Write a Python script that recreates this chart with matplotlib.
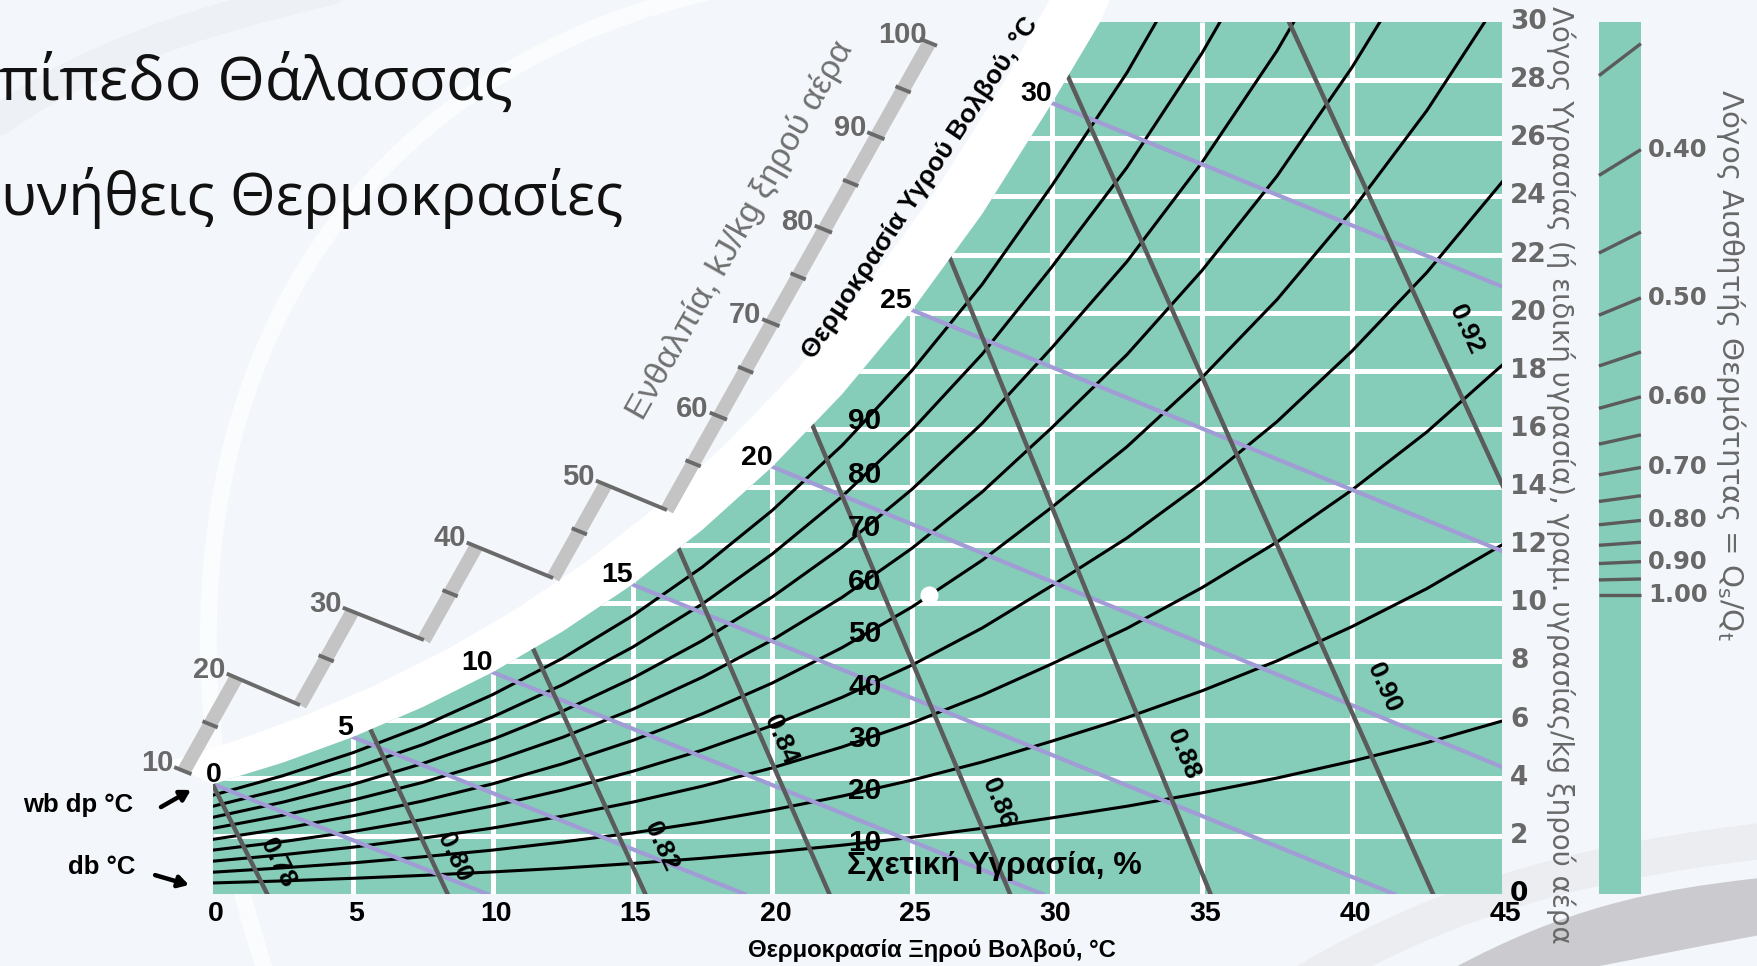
import numpy as np
import matplotlib
matplotlib.use("Agg")
import matplotlib.pyplot as plt
from matplotlib.patches import Polygon, PathPatch
from matplotlib.path import Path
from matplotlib.font_manager import fontManager

W_PX, H_PX, DPI = 1757, 966, 100

BG = '#f3f6fa'
GREEN = '#85ccb9'
LAVENDER = '#a19cd6'
DARK = '#5b5b5b'
GREY_TXT = '#686868'
BAR_GREY = '#c4c4c4'

# ---- chart values ------------------------------------------------------------
TEMPS = [0, 2.5, 5, 7.5, 10, 12.5, 15, 17.5, 20, 22.5,
         25, 27.5, 30, 32.5, 35, 37.5, 40, 42.5, 45]

# humidity ratio, g/kg dry air, along each relative humidity curve
RH_10 = [0.38, 0.45, 0.54, 0.64, 0.76, 0.89, 1.05, 1.23, 1.44, 1.68,
         1.95, 2.26, 2.62, 3.02, 3.48, 3.99, 4.57, 5.21, 5.95]
RH_20 = [0.75, 0.90, 1.07, 1.28, 1.51, 1.79, 2.10, 2.47, 2.89, 3.37,
         3.92, 4.54, 5.26, 6.07, 6.99, 8.02, 9.20, 10.51, 12.01]
RH_30 = [1.13, 1.35, 1.61, 1.92, 2.27, 2.68, 3.16, 3.71, 4.34, 5.06,
         5.89, 6.84, 7.92, 9.14, 10.54, 12.11, 13.90, 15.90, 18.19]
RH_40 = [1.51, 1.80, 2.15, 2.56, 3.03, 3.58, 4.22, 4.95, 5.80, 6.77,
         7.88, 9.15, 10.61, 12.25, 14.14, 16.25, 18.68, 21.39, 24.49]
RH_50 = [1.88, 2.25, 2.69, 3.20, 3.79, 4.48, 5.28, 6.20, 7.26, 8.48,
         9.88, 11.48, 13.31, 15.39, 17.77, 20.45, 23.52, 26.96, 30.91]
RH_60 = [2.26, 2.71, 3.23, 3.84, 4.56, 5.39, 6.35, 7.46, 8.74, 10.21,
         11.90, 13.83, 16.05, 18.56, 21.45, 24.70, 28.44, 32.64]
RH_70 = [2.64, 3.16, 3.77, 4.49, 5.32, 6.29, 7.42, 8.72, 10.22, 11.94,
         13.93, 16.19, 18.80, 21.76, 25.17, 29.01, 33.44]
RH_80 = [3.02, 3.61, 4.32, 5.14, 6.09, 7.20, 8.49, 9.98, 11.70, 13.68,
         15.97, 18.57, 21.58, 25.00, 28.93, 33.40]
RH_90 = [3.40, 4.07, 4.86, 5.78, 6.86, 8.11, 9.57, 11.25, 13.20, 15.44,
         18.02, 20.97, 24.38, 28.26, 32.73]
SATURATION = [3.78, 4.52, 5.40, 6.43, 7.63, 9.03, 10.65, 12.53, 14.70, 17.20,
              20.09, 23.39, 27.21, 31.56]
RH_LEVELS = [10, 20, 30, 40, 50, 60, 70, 80, 90]
RH_CURVES = [RH_10, RH_20, RH_30, RH_40, RH_50, RH_60, RH_70, RH_80, RH_90]

X_TICKS = [0, 5, 10, 15, 20, 25, 30, 35, 40, 45]
Y_TICKS = [0, 2, 4, 6, 8, 10, 12, 14, 16, 18, 20, 22, 24, 26, 28, 30]

# wet bulb lines: start on saturation, end where they leave the chart
WB_TEMPS = [0, 5, 10, 15, 20, 25, 30]
WB_START_W = [3.78, 5.40, 7.63, 10.65, 14.70, 20.09, 27.21]
WB_END_T = [9.8, 19.0, 29.65, 41.4, 45.0, 45.0, 45.0]
WB_END_W = [0, 0, 0, 0, 4.37, 11.8, 20.9]

# specific volume lines, m3/kg
VOLUMES = ['0.78', '0.80', '0.82', '0.84', '0.86', '0.88', '0.90', '0.92']
VOL_TOP_T = [0.0, 5.64, 11.47, 16.64, 21.4, 26.4, 30.53, 37.9]
VOL_TOP_W = [3.75, 5.64, 8.39, 11.9, 16.2, 21.7, 28.1, 30.0]
VOL_BOT_T = [1.94, 8.39, 15.46, 22.04, 28.5, 35.27, 42.7, 45.0]
VOL_BOT_W = [0, 0, 0, 0, 0, 0, 0, 14.1]
VOL_LABEL_T = [2.32, 8.62, 16.02, 20.31, 28.10, 34.37, 41.07, 43.8]
VOL_LABEL_W = [1.07, 1.27, 1.65, 5.30, 3.13, 4.82, 7.09, 19.44]

ENTH_LABELS = [10, 20, 30, 40, 50, 60, 70, 80, 90, 100]
ENTH_SEGMENTS = [(10, 20), (20, 30), (30, 40), (40, 50), (50, 100)]

SHR_TICKS = [0.35, 0.40, 0.45, 0.50, 0.55, 0.60, 0.65,
             0.70, 0.75, 0.80, 0.85, 0.90, 0.95, 1.00]
SHR_LABELS = [0.40, 0.50, 0.60, 0.70, 0.80, 0.90, 1.00]
REF_T, REF_W = 25.6, 10.3

# ---- layout ------------------------------------------------------------------
X_BREAK, X_STRETCH = 30.0, 1.0726    # printed scale is wider above 30 C
RH_LABEL_T = 23.3
ENTH_BASE_T = [-1.04, 3.11, 7.54, 12.16, 16.23]
ENTH_BASE_W = [4.23, 6.50, 8.74, 10.87, 13.21]
ENTH_ALONG = (0.1877, 0.3216)        # per kJ/kg along the scale bar
ENTH_ACROSS = (2.47, -0.97)          # direction of a constant-enthalpy step
SHR_T0, SHR_T1 = 48.23, 49.63
SHR_SPAN = 9.91
BAND_DT, BAND_DW = 1.7, 0.75

installed = {f.name for f in fontManager.ttflist}
SANS = 'Liberation Sans' if 'Liberation Sans' in installed else 'DejaVu Sans'
TITLE_FONT = 'Open Sans' if 'Open Sans' in installed else 'DejaVu Sans'
plt.rcParams['font.family'] = [SANS, 'DejaVu Sans']


def fwd(t):
    t = np.asarray(t, dtype=float)
    return np.where(t <= X_BREAK, t, X_BREAK + (t - X_BREAK) * X_STRETCH)


def inv(u):
    u = np.asarray(u, dtype=float)
    return np.where(u <= X_BREAK, u, X_BREAK + (u - X_BREAK) / X_STRETCH)


def fig_xy(x, y):
    return x / W_PX, 1 - y / H_PX


fig = plt.figure(figsize=(W_PX / DPI, H_PX / DPI), dpi=DPI, facecolor=BG)
ax = fig.add_axes([0, 0, 1, 1])
ax.set_xscale('function', functions=(fwd, inv))
ax.set_xlim(-7.615, 53.50)
ax.set_ylim(-2.477, 30.757)
ax.axis('off')
renderer = fig.canvas.get_renderer()


def fitted(text, target_px, **kw):
    probe = fig.text(0, 0, text, fontsize=20, **kw)
    width = probe.get_window_extent(renderer).width
    probe.remove()
    return 20 * target_px / width


# ---- background swooshes -------------------------------------------------------
def swoosh(points, lw, color, alpha):
    verts = [fig_xy(*p) for p in points]
    codes = [Path.MOVETO] + [Path.CURVE4] * (len(verts) - 1)
    ax.add_patch(PathPatch(Path(verts, codes), transform=fig.transFigure,
                           fill=False, lw=lw, ec=color, alpha=alpha,
                           zorder=0, clip_on=False, capstyle='round'))


swoosh([(270, 985), (110, 520), (260, 80), (740, -15)], 12, 'white', 0.7)
swoosh([(0, 120), (80, 60), (200, 20), (330, -10)], 22, '#e8ebf0', 0.5)
swoosh([(1300, 985), (1460, 890), (1600, 860), (1770, 840)], 26, '#e6e8ec', 0.6)
grey_band = Path([fig_xy(1450, 970), fig_xy(1565, 908), fig_xy(1650, 890),
                  fig_xy(1760, 878), fig_xy(1760, 935), fig_xy(1680, 950),
                  fig_xy(1620, 962), fig_xy(1580, 970), fig_xy(1450, 970)],
                 [Path.MOVETO, Path.CURVE4, Path.CURVE4, Path.CURVE4,
                  Path.LINETO, Path.CURVE4, Path.CURVE4, Path.CURVE4,
                  Path.CLOSEPOLY])
ax.add_patch(PathPatch(grey_band, transform=fig.transFigure, fc='#cbcbcf',
                       ec='none', zorder=0, clip_on=False))

# ---- chart area ----------------------------------------------------------------
sat_t = TEMPS[:len(SATURATION)]
t_top = float(np.interp(30, SATURATION, sat_t))
edge = [(t, w) for t, w in zip(sat_t, SATURATION) if w < 30] + [(t_top, 30)]

band_edge = edge + [(t_top + 0.5, 31.2)]
band = band_edge + [(t - BAND_DT, w + BAND_DW) for t, w in band_edge][::-1]
ax.add_patch(Polygon(band, closed=True, fc='white', ec='none', zorder=1))

green = Polygon(edge + [(45, 30), (45, 0), (0, 0)], closed=True,
                fc=GREEN, ec='none', zorder=2)
ax.add_patch(green)

hl = ax.hlines(Y_TICKS[1:-1], 0, 45, color='white', lw=3.6, zorder=3)
vl = ax.vlines(X_TICKS[1:-1], 0, 30, color='white', lw=3.6, zorder=3)
hl.set_clip_path(green)
vl.set_clip_path(green)

for level, curve in zip(RH_LEVELS, RH_CURVES):
    ln, = ax.plot(TEMPS[:len(curve)], curve, color='black', lw=2.2, zorder=4)
    ln.set_clip_path(green)
    w_lab = float(np.interp(RH_LABEL_T, TEMPS[:len(curve)], curve))
    ax.text(RH_LABEL_T, w_lab, str(level), ha='center', va='center',
            fontsize=21.5, fontweight='bold', zorder=8)

for tw, w0, t1, w1 in zip(WB_TEMPS, WB_START_W, WB_END_T, WB_END_W):
    ln, = ax.plot([tw, t1], [w0, w1], color=LAVENDER, lw=3.0, zorder=4.5)
    ln.set_clip_path(green)
    dx = 9 if tw == 0 else 0
    ax.annotate(str(tw), xy=(tw, w0), xytext=(dx, 9), textcoords='offset pixels',
                ha='right', va='center', fontsize=20.5, fontweight='bold', zorder=8)

for i, lab in enumerate(VOLUMES):
    t0, w0 = VOL_BOT_T[i], VOL_BOT_W[i]
    t1, w1 = VOL_TOP_T[i], VOL_TOP_W[i]
    ln, = ax.plot([t0 - 0.06 * (t1 - t0), t1 + 0.06 * (t1 - t0)],
                  [w0 - 0.06 * (w1 - w0), w1 + 0.06 * (w1 - w0)],
                  color=DARK, lw=3.2, zorder=5)
    ln.set_clip_path(green)
    (x0, y0), (x1, y1) = ax.transData.transform([(t1, w1), (t0, w0)])
    angle = np.degrees(np.arctan2(y1 - y0, x1 - x0))
    ax.text(VOL_LABEL_T[i], VOL_LABEL_W[i], lab, rotation=angle,
            rotation_mode='anchor', ha='center', va='center',
            fontsize=19, fontweight='bold', zorder=8)

ax.plot([REF_T], [REF_W], 'o', color='white', ms=13, mec='none', zorder=7)

# axis numbers
for x in X_TICKS:
    ax.annotate(str(x), xy=(x, 0), xytext=(3, -20), textcoords='offset pixels',
                ha='center', va='center', fontsize=20.5, fontweight='bold', zorder=8)
for y in Y_TICKS:
    ax.annotate(str(y), xy=(45, y), xytext=(8, 0), textcoords='offset pixels',
                ha='left', va='center', fontsize=19, fontweight='bold',
                family='DejaVu Sans', color='black' if y == 0 else GREY_TXT,
                zorder=8)

# ---- enthalpy scale --------------------------------------------------------------
def enth_point(k, h):
    h0 = ENTH_SEGMENTS[k][0]
    return (ENTH_BASE_T[k] + (h - h0) * ENTH_ALONG[0],
            ENTH_BASE_W[k] + (h - h0) * ENTH_ALONG[1])


def across(p, a, b):
    return ([p[0] + a * ENTH_ACROSS[0], p[0] + b * ENTH_ACROSS[0]],
            [p[1] + a * ENTH_ACROSS[1], p[1] + b * ENTH_ACROSS[1]])


label_at = {}
for k, (h0, h1) in enumerate(ENTH_SEGMENTS):
    p0, p1 = enth_point(k, h0), enth_point(k, h1)
    ax.plot([p0[0], p1[0]], [p0[1], p1[1]], color=BAR_GREY, lw=10,
            solid_capstyle='butt', zorder=3)
    for h in range(h0, h1 + 1, 5):
        p = enth_point(k, h)
        if h in ENTH_LABELS:
            label_at.setdefault(h, p)
        if (h == h0 and k > 0) or (h == h1 and k < len(ENTH_SEGMENTS) - 1):
            continue
        a = -0.14 if h in ENTH_LABELS else -0.11
        ax.plot(*across(p, a, 0.11), color='#6a6a6a', lw=2.8,
                solid_capstyle='butt', zorder=3.5)
    if k < len(ENTH_SEGMENTS) - 1:
        nxt = enth_point(k + 1, h1)
        ax.plot([p1[0] - 0.14 * ENTH_ACROSS[0], nxt[0]],
                [p1[1] - 0.14 * ENTH_ACROSS[1], nxt[1]],
                color='#6a6a6a', lw=2.8, solid_capstyle='butt', zorder=3.5)
        label_at[h1] = p1

for h in ENTH_LABELS:
    ax.annotate(str(h), xy=label_at[h], xytext=(-27, 8), textcoords='offset pixels',
                ha='center', va='center', fontsize=21, fontweight='bold',
                color=GREY_TXT, zorder=8)

# ---- sensible heat ratio protractor -------------------------------------------------
ax.fill([SHR_T0, SHR_T1, SHR_T1, SHR_T0], [0, 0, 30, 30], color=GREEN, lw=0, zorder=2)
t_mid = 0.5 * (SHR_T0 + SHR_T1)
for s in SHR_TICKS:
    w_mid = REF_W + SHR_SPAN * (1 - s) / s
    slope = (w_mid - REF_W) / (t_mid - REF_T)
    w_l = w_mid + slope * (SHR_T0 - t_mid)
    w_r = w_mid + slope * (SHR_T1 - t_mid)
    ax.plot([SHR_T0, SHR_T1], [w_l, w_r], color=DARK, lw=2.4,
            solid_capstyle='butt', zorder=5)
    if any(abs(s - v) < 1e-9 for v in SHR_LABELS):
        ax.annotate(f'{s:.2f}', xy=(SHR_T1, w_r), xytext=(7, 0),
                    textcoords='offset pixels', ha='left', va='center',
                    fontsize=17.5, fontweight='bold', family='DejaVu Sans',
                    color=GREY_TXT, zorder=8)

# ---- titles and axis names ------------------------------------------------------------
size_1 = min(52, fitted('πίπεδο Θάλασσας', 513, family=TITLE_FONT))
size_2 = min(52, fitted('υνήθεις Θερμοκρασίες', 623, family=TITLE_FONT))
ax.text(*fig_xy(513, 100), 'Επίπεδο Θάλασσας', transform=fig.transFigure,
        ha='right', va='baseline', fontsize=size_1, family=TITLE_FONT,
        color='#111111')
ax.text(*fig_xy(623, 215), 'Συνήθεις Θερμοκρασίες', transform=fig.transFigure,
        ha='right', va='baseline', fontsize=size_2, family=TITLE_FONT,
        color='#111111')


def rotated(text, cx, cy, angle, length, **kw):
    size = fitted(text, length, **kw)
    ax.text(*fig_xy(cx, cy), text, transform=fig.transFigure, rotation=angle,
            rotation_mode='anchor', ha='center', va='center', fontsize=size,
            zorder=8, **kw)


rotated('Ενθαλπία, kJ/kg ξηρού αέρα', 740, 230, 60.6, 429, color='#707070')
rotated('Θερμοκρασία Υγρού Βολβού, °C', 920, 188, 56.3, 405,
        fontweight='bold', color='black')
rotated('Θερμοκρασία Ξηρού Βολβού, °C', 932, 950, 0, 369,
        fontweight='bold', color='black')
rotated('Σχετική Υγρασία, %', 994, 866, 0, 295, fontweight='bold', color='black')
rotated('Λόγος Υγρασίας (ή ειδική υγρασία), γραμ. υγρασίας/kg ξηρού αέρα',
        1561, 475, -90, 937, color=GREY_TXT, family='DejaVu Sans')
rotated(r'Λόγος Αισθητής Θερμότητας = Q$_\mathregular{s}$/Q$_\mathregular{t}$',
        1731, 365, -90, 552, color=GREY_TXT, family='DejaVu Sans')

# pointers to the wet bulb / dew point and dry bulb scales
ax.text(-4.83, 3.06, 'wb dp °C', ha='center', va='center', fontsize=18.5,
        fontweight='bold', zorder=8)
ax.text(-3.97, 0.93, 'db °C', ha='center', va='center', fontsize=18.5,
        fontweight='bold', zorder=8)
arrow = dict(arrowstyle='-|>,head_length=0.6,head_width=0.35', color='black',
             lw=3.2, shrinkA=0, shrinkB=0)
ax.annotate('', xy=(-0.79, 3.58), xytext=(-1.86, 2.99), arrowprops=arrow, zorder=8)
ax.annotate('', xy=(-0.86, 0.31), xytext=(-2.07, 0.65), arrowprops=arrow, zorder=8)

fig.savefig('out.png', dpi=DPI, facecolor=BG)
